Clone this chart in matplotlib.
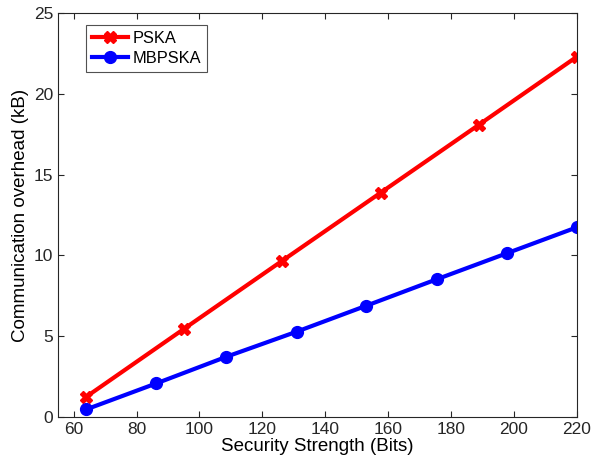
import matplotlib
matplotlib.use("Agg")
import matplotlib.pyplot as plt

plt.rcParams['font.family'] = ['Liberation Sans', 'DejaVu Sans']

# security strength (bits) vs communication overhead (kB)
x_pska = [64, 95.2, 126.4, 157.6, 188.8, 220]
y_pska = [1.25, 5.47, 9.68, 13.88, 18.08, 22.3]
x_mb = [64, 86.3, 108.6, 130.9, 153.1, 175.4, 197.7, 220]
y_mb = [0.47, 2.08, 3.73, 5.28, 6.89, 8.52, 10.13, 11.74]

fig = plt.figure(figsize=(5.91, 4.68), dpi=100)
ax = fig.add_axes([0.098, 0.109, 0.878, 0.863])

ax.plot(x_pska, y_pska, '-X', color='#ff0000', lw=3, markersize=8.5, label='PSKA')
ax.plot(x_mb, y_mb, '-o', color='#0000ff', lw=3, markersize=8.5, label='MBPSKA')

ax.set_xlim(55, 220)
ax.set_ylim(0, 25)
ax.set_xticks(range(60, 221, 20))
ax.set_yticks(range(0, 26, 5))
ax.set_xlabel('Security Strength (Bits)', fontsize=13.5, labelpad=1)
ax.set_ylabel('Communication overhead (kB)', fontsize=13.5, labelpad=3)

for s in ax.spines.values():
    s.set_color('#262626')
    s.set_linewidth(0.8)
ax.tick_params(direction='in', top=True, right=True, labelsize=12.5,
               color='#262626', labelcolor='#262626', length=4)

leg = ax.legend(loc='upper left', bbox_to_anchor=(0.038, 0.99), fancybox=False,
                edgecolor='#262626', fontsize=11.8, handlelength=2.2,
                borderpad=0.35, labelspacing=0.3, handletextpad=0.3)
leg.get_frame().set_linewidth(0.8)

fig.savefig('out.png', dpi=100)
